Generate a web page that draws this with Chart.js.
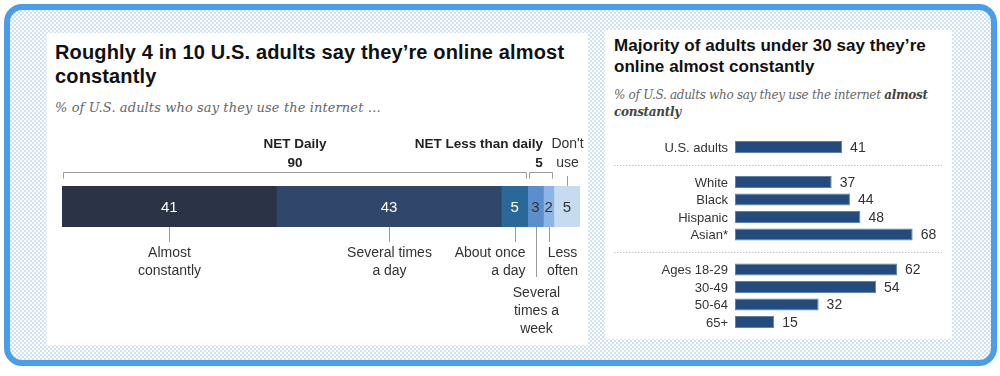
<!DOCTYPE html>
<html>
<head>
<meta charset="utf-8">
<script src="https://cdn.jsdelivr.net/npm/chart.js@4.4.1/dist/chart.umd.min.js"></script>
<style>
  html,body{margin:0;padding:0;background:#fff;}
  body{width:1000px;height:376px;position:relative;overflow:hidden;font-family:"Liberation Sans",Arial,sans-serif;}
  #frame{position:absolute;left:4px;top:4px;width:993px;height:362px;box-sizing:border-box;border:6px solid #4a9de9;border-radius:18px;
    background-color:#fff;
    background-image:conic-gradient(#cde2f9 25%, transparent 0 50%, #cde2f9 0 75%, transparent 0);
    background-size:4px 4px;}
  .panel{position:absolute;background:#fff;}
  #pl{left:47px;top:33px;width:541px;height:312px;}
  #pr{left:605px;top:30px;width:347px;height:309px;}
  .title{position:absolute;font-weight:bold;color:#111;white-space:nowrap;}
  .sub{position:absolute;font-family:"DejaVu Serif",Georgia,serif;font-style:italic;color:#666;white-space:nowrap;}
  .sub b{color:#444;}
  .cw{position:absolute;}
</style>
</head>
<body>
<div id="frame"></div>
<div class="panel" id="pl">
  <div class="title" style="left:8px;top:7px;font-size:20px;line-height:24px;letter-spacing:0.15px;">Roughly 4 in 10 U.S. adults say they’re online almost<br>constantly</div>
  <div class="sub" style="left:8px;top:66px;font-size:13px;line-height:17px;letter-spacing:0.1px;">% of U.S. adults who say they use the internet …</div>
  <div class="cw" style="left:0;top:100px;width:541px;height:212px;"><canvas id="c1"></canvas></div>
</div>
<div class="panel" id="pr">
  <div class="title" style="left:9px;top:5px;font-size:17px;line-height:21px;letter-spacing:0.05px;">Majority of adults under 30 say they’re<br>online almost constantly</div>
  <div class="sub" style="left:9px;top:57px;font-size:12px;line-height:17px;letter-spacing:-0.3px;">% of U.S. adults who say they use the internet <b>almost<br>constantly</b></div>
  <div class="cw" style="left:0;top:90px;width:347px;height:219px;"><canvas id="c2"></canvas></div>
</div>
<script>
// ---------- Data: left chart ----------
const freqCategories = ["Almost\nconstantly","Several times\na day","About once\na day","Several\ntimes a\nweek","Less\noften","Don't\nuse"];
const freqValues = [41, 43, 5, 3, 2, 5];
const freqColors = ["#2b3447","#30466a","#2a6899","#5b8ecb","#8db4e2","#c6daf0"];
const freqLabelColors = ["#ffffff","#ffffff","#ffffff","#333333","#333333","#333333"];
const netLabels = ["NET Daily","NET Less than daily"];
const netValues = [90, 5];
const netSpans = [[0,2],[3,4]]; // segment index ranges

// ---------- Data: right chart ----------
const groupCategories = ["U.S. adults","","White","Black","Hispanic","Asian*","","Ages 18-29","30-49","50-64","65+"];
const groupValues = [41, null, 37, 44, 48, 68, null, 62, 54, 32, 15];

Chart.defaults.font.family = '"Liberation Sans", Arial, sans-serif';
Chart.defaults.animation = false;

// ---------- Left chart ----------
const annot1 = {
  id: 'annot1',
  afterDatasetsDraw(chart) {
    const {ctx, chartArea: ca, scales: {x}} = chart;
    const cum = [0];
    freqValues.forEach(v => cum.push(cum[cum.length - 1] + v));
    const mid = i => x.getPixelForValue((cum[i] + cum[i + 1]) / 2);
    const yMid = (ca.top + ca.bottom) / 2;
    ctx.save();
    // value labels
    ctx.font = '15px "Liberation Sans", Arial, sans-serif';
    ctx.textAlign = 'center';
    ctx.textBaseline = 'middle';
    freqValues.forEach((v, i) => {
      ctx.fillStyle = freqLabelColors[i];
      ctx.fillText(String(v), mid(i), yMid + 1);
    });
    // brackets
    ctx.strokeStyle = '#9a9a9a';
    ctx.lineWidth = 1;
    const by = Math.round(ca.top - 14) + 0.5;
    netSpans.forEach((sp, k) => {
      const x0 = Math.round(x.getPixelForValue(cum[sp[0]])) + 1.5;
      const x1 = Math.round(x.getPixelForValue(cum[sp[1] + 1])) - 1.5;
      ctx.beginPath();
      ctx.moveTo(x0, by + 6); ctx.lineTo(x0, by); ctx.lineTo(x1, by); ctx.lineTo(x1, by + 6);
      ctx.stroke();
      const cx = (x0 + x1) / 2;
      ctx.fillStyle = '#222';
      ctx.font = 'bold 13.5px "Liberation Sans", Arial, sans-serif';
      if (k === 0) {
        ctx.textAlign = 'center';
        ctx.fillText(netLabels[k], cx, ca.top - 42);
        ctx.fillText(String(netValues[k]), cx, ca.top - 23);
      } else {
        ctx.textAlign = 'right';
        ctx.fillText(netLabels[k], cx + 2, ca.top - 42);
        ctx.textAlign = 'center';
        ctx.fillText(String(netValues[k]), cx - 2, ca.top - 23);
      }
    });
    // Don't use label (above)
    ctx.font = '14px "Liberation Sans", Arial, sans-serif';
    ctx.fillStyle = '#333';
    const dx = Math.round(mid(5)) + 0.5;
    ctx.beginPath(); ctx.moveTo(dx, ca.top - 10); ctx.lineTo(dx, ca.top); ctx.stroke();
    ctx.textAlign = 'center';
    freqCategories[5].split('\n').forEach((t, j) => ctx.fillText(t, dx, ca.top - 42 + j * 19));
    // labels below
    const lh = 18;
    for (let i = 0; i < 5; i++) {
      const tx = Math.round(mid(i)) + 0.5;
      const long = (i === 3);
      const tickEnd = ca.bottom + (long ? 50 : 15);
      ctx.beginPath(); ctx.moveTo(tx, ca.bottom); ctx.lineTo(tx, tickEnd); ctx.stroke();
      const lines = freqCategories[i].split('\n');
      let ax = tx, align = 'center';
      if (i === 2) { ax = tx + 10; align = 'right'; }
      if (i === 4) { ax = tx + 13; }
      ctx.textAlign = align;
      const y0 = long ? ca.bottom + 66 : ca.bottom + 26;
      lines.forEach((t, j) => ctx.fillText(t, ax, y0 + j * lh));
    }
    ctx.restore();
  }
};

new Chart(document.getElementById('c1'), {
  type: 'bar',
  data: {
    labels: ['All'],
    datasets: freqValues.map((v, i) => ({
      label: freqCategories[i].replace(/\n/g, ' '),
      data: [v],
      backgroundColor: freqColors[i],
      borderWidth: 0,
      barPercentage: 1,
      categoryPercentage: 1
    }))
  },
  options: {
    indexAxis: 'y',
    responsive: true,
    maintainAspectRatio: false,
    layout: {padding: {left: 15, right: 8, top: 53, bottom: 118}},
    plugins: {legend: {display: false}, tooltip: {enabled: false}},
    scales: {
      x: {stacked: true, min: 0, max: 99, display: false},
      y: {stacked: true, display: false}
    }
  },
  plugins: [annot1]
});

// ---------- Right chart ----------
const annot2 = {
  id: 'annot2',
  afterDatasetsDraw(chart) {
    const {ctx, chartArea: ca, scales: {y}} = chart;
    ctx.save();
    // separators
    ctx.strokeStyle = '#c4c4c4';
    ctx.lineWidth = 1;
    ctx.setLineDash([1.5, 1.5]);
    groupCategories.forEach((c, i) => {
      if (c === '') {
        const yy = Math.round(y.getPixelForValue(i)) + 0.5;
        ctx.beginPath(); ctx.moveTo(9, yy); ctx.lineTo(337, yy); ctx.stroke();
      }
    });
    ctx.setLineDash([]);
    ctx.textBaseline = 'middle';
    // category labels
    ctx.font = '13px "Liberation Sans", Arial, sans-serif';
    ctx.fillStyle = '#333';
    ctx.textAlign = 'right';
    groupCategories.forEach((c, i) => {
      if (c !== '') ctx.fillText(c, ca.left - 7, y.getPixelForValue(i) + 1);
    });
    // value labels
    ctx.font = '14px "Liberation Sans", Arial, sans-serif';
    ctx.textAlign = 'left';
    const meta = chart.getDatasetMeta(0);
    meta.data.forEach((bar, i) => {
      const v = groupValues[i];
      if (v == null) return;
      ctx.fillText(String(v), bar.x + 8, bar.y + 1);
    });
    ctx.restore();
  }
};

new Chart(document.getElementById('c2'), {
  type: 'bar',
  data: {
    labels: groupCategories,
    datasets: [{
      data: groupValues,
      backgroundColor: '#244b7d',
      borderColor: '#5f81ad',
      borderWidth: 1,
      borderSkipped: false,
      barPercentage: 0.68,
      categoryPercentage: 1
    }]
  },
  options: {
    indexAxis: 'y',
    responsive: true,
    maintainAspectRatio: false,
    layout: {padding: {left: 130, right: 8, top: 18.25, bottom: 8.25}},
    plugins: {legend: {display: false}, tooltip: {enabled: false}},
    scales: {
      x: {min: 0, max: 80, display: false},
      y: {display: false}
    }
  },
  plugins: [annot2]
});
</script>
</body>
</html>
